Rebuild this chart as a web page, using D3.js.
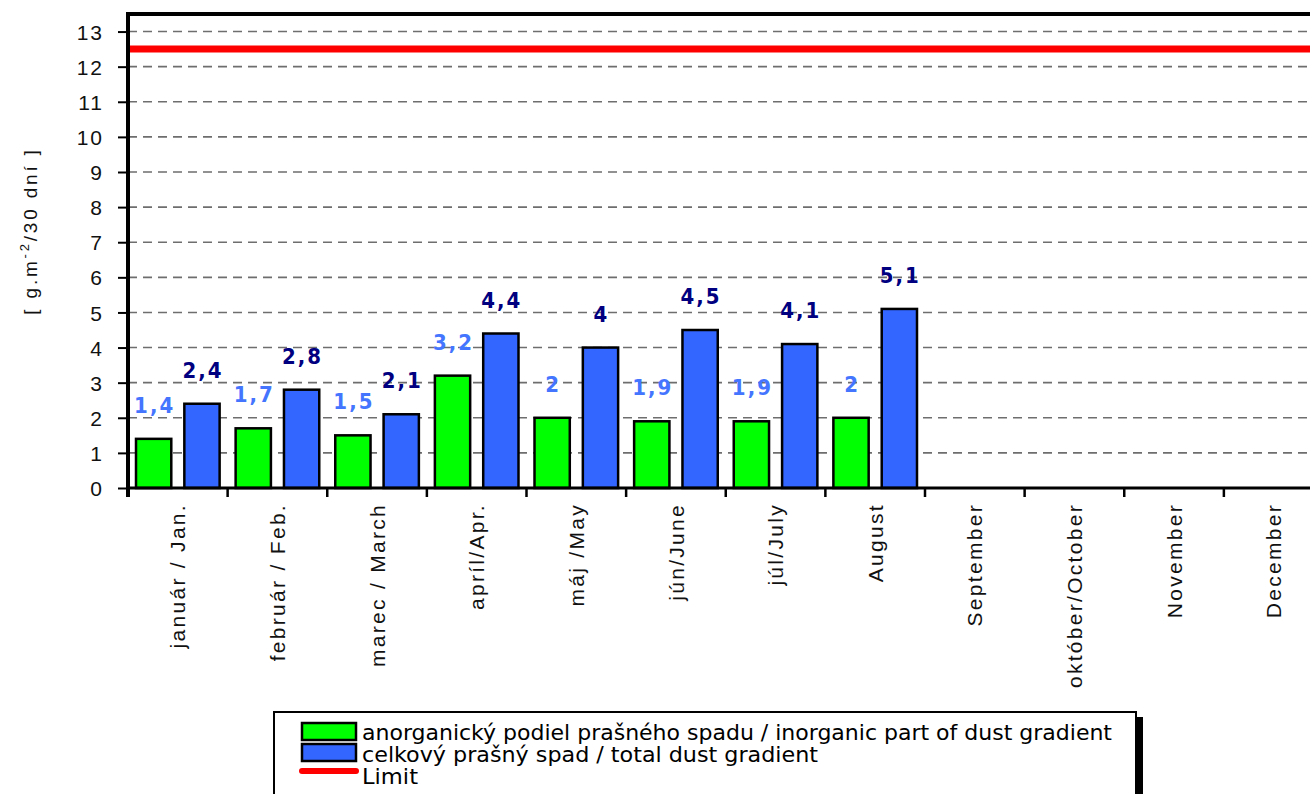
<!DOCTYPE html>
<html><head><meta charset="utf-8">
<script src="https://cdn.jsdelivr.net/npm/d3@7"></script>
<style>body{margin:0;background:#fff}svg{display:block}</style>
</head><body>
<svg id="c" width="1310" height="794"></svg>
<script>
const months = ["január / Jan.","február / Feb.","marec / March","apríl/Apr.","máj /May","jún/June","júl/July","August","September","október/October","November","December"];
const inorganic = [1.4,1.7,1.5,3.2,2,1.9,1.9,2];
const total = [2.4,2.8,2.1,4.4,4,4.5,4.1,5.1];
const limitValue = 12.5;
const yTicks = [0,1,2,3,4,5,6,7,8,9,10,11,12,13];
const seriesNames = ["anorganický podiel prašného spadu / inorganic part of dust gradient","celkový prašný spad / total dust gradient","Limit"];

const svg = d3.select("#c");
const L = 128, T = 14, B = 488, R = 1323.5;
const x = d3.scaleBand().domain(months).range([L, R]);
const xs = d3.scaleBand().domain(["g","b"]).range([8, x.bandwidth()-8]).paddingInner(0.27);
const y = d3.scaleLinear().domain([0, 13.5]).range([B, T]);
const fmt = v => String(v).replace(".", ",");
const sansA = "'Liberation Sans', Arial, Helvetica, sans-serif";

// grid
svg.append("g").selectAll("line").data(yTicks.filter(d=>d>0)).join("line")
  .attr("x1", L).attr("x2", 1310).attr("y1", d=>y(d)).attr("y2", d=>y(d))
  .attr("stroke", "#6e6e6e").attr("stroke-width", 1.6).attr("stroke-dasharray", "9,6");

// limit line
svg.append("line").attr("x1", L).attr("x2", 1310).attr("y1", y(limitValue)).attr("y2", y(limitValue))
  .attr("stroke", "#ff0000").attr("stroke-width", 7);

// bars
const bars = svg.append("g");
bars.selectAll("rect.g").data(inorganic).join("rect").attr("class","g")
  .attr("x", (d,i)=>x(months[i])+xs("g")).attr("width", xs.bandwidth())
  .attr("y", d=>y(d)).attr("height", d=>B-y(d))
  .attr("fill", "#00ff00").attr("stroke", "#000").attr("stroke-width", 2.5);
bars.selectAll("rect.b").data(total).join("rect").attr("class","b")
  .attr("x", (d,i)=>x(months[i])+xs("b")).attr("width", xs.bandwidth())
  .attr("y", d=>y(d)).attr("height", d=>B-y(d))
  .attr("fill", "#3366ff").attr("stroke", "#000").attr("stroke-width", 2.5);

// data labels
const lab = svg.append("g").attr("font-family","'DejaVu Sans Condensed','DejaVu Sans', Verdana, sans-serif").attr("font-weight","bold")
  .attr("font-size", 22).attr("text-anchor","middle").style("letter-spacing","2px");
lab.selectAll("text.g").data(inorganic).join("text").attr("class","g")
  .attr("x", (d,i)=>x(months[i])+xs("g")+xs.bandwidth()/2+1).attr("y", d=>y(d)-26)
  .attr("fill", "#4475ff").text(fmt);
lab.selectAll("text.b").data(total).join("text").attr("class","b")
  .attr("x", (d,i)=>x(months[i])+xs("b")+xs.bandwidth()/2+1).attr("y", d=>y(d)-26)
  .attr("fill", "#000080").text(fmt);

// y axis
const ya = svg.append("g").attr("transform", `translate(${L},0)`)
  .call(d3.axisLeft(y).tickValues(yTicks).tickSize(10).tickPadding(14));
ya.select(".domain").remove();
ya.selectAll(".tick line").attr("stroke","#000").attr("stroke-width",2);
ya.selectAll(".tick text").attr("font-family",sansA).attr("font-size",21)
  .attr("fill","#111").style("letter-spacing","2px").attr("dy","0.36em");
svg.append("line").attr("x1",L).attr("x2",L).attr("y1",T-2).attr("y2",B+9).attr("stroke","#000").attr("stroke-width",4);

// x axis
const xa = svg.append("g").attr("transform", `translate(0,${B})`)
  .call(d3.axisBottom(x).tickSize(0).tickPadding(0));
xa.select(".domain").remove();
xa.selectAll(".tick text").attr("font-family",sansA).attr("font-size",21)
  .attr("fill","#111").style("letter-spacing","2.3px")
  .attr("transform","rotate(-90)").attr("text-anchor","end").attr("x",-15).attr("y",0).attr("dy","0.36em");
svg.append("g").selectAll("line").data(months.slice(1)).join("line")
  .attr("x1", d=>x(d)).attr("x2", d=>x(d)).attr("y1", B).attr("y2", B+9)
  .attr("stroke","#000").attr("stroke-width",2.5);
svg.append("line").attr("x1",L-2).attr("x2",1310).attr("y1",B).attr("y2",B).attr("stroke","#000").attr("stroke-width",3);
// top border
svg.append("line").attr("x1",L-2).attr("x2",1310).attr("y1",T).attr("y2",T).attr("stroke","#000").attr("stroke-width",4);

// y title
const yt = svg.append("text").attr("transform","translate(37,231) rotate(-90)").attr("text-anchor","middle")
  .attr("font-family",sansA).attr("font-size",19).attr("fill","#111").style("letter-spacing","2.8px");
yt.append("tspan").text("[ g.m");
yt.append("tspan").attr("dy",-8).attr("font-size",13).text("-2");
yt.append("tspan").attr("dy",8).text("/30 dní ]");

// legend
const lg = svg.append("g");
lg.append("rect").attr("x",1137).attr("y",717).attr("width",6).attr("height",90).attr("fill","#000");
lg.append("rect").attr("x",274).attr("y",712).attr("width",862).attr("height",100).attr("fill","#fff").attr("stroke","#000").attr("stroke-width",2);
const sw = [{c:"#00ff00",y:723},{c:"#3366ff",y:744}];
lg.selectAll("rect.sw").data(sw).join("rect").attr("class","sw").attr("x",302).attr("y",d=>d.y).attr("width",54).attr("height",17)
  .attr("fill",d=>d.c).attr("stroke","#000").attr("stroke-width",2.5);
lg.append("line").attr("x1",302).attr("x2",356).attr("y1",771).attr("y2",771).attr("stroke","#ff0000").attr("stroke-width",6).attr("stroke-linecap","round");
const lens = [750, 456, 56];
lg.selectAll("text").data(seriesNames).join("text").attr("x",362).attr("y",(d,i)=>740+i*22)
  .attr("font-family","'DejaVu Sans Condensed','DejaVu Sans', sans-serif").attr("font-size",21).attr("fill","#000")
  .attr("textLength",(d,i)=>lens[i]).attr("lengthAdjust","spacingAndGlyphs").text(d=>d);
</script>
</body></html>
